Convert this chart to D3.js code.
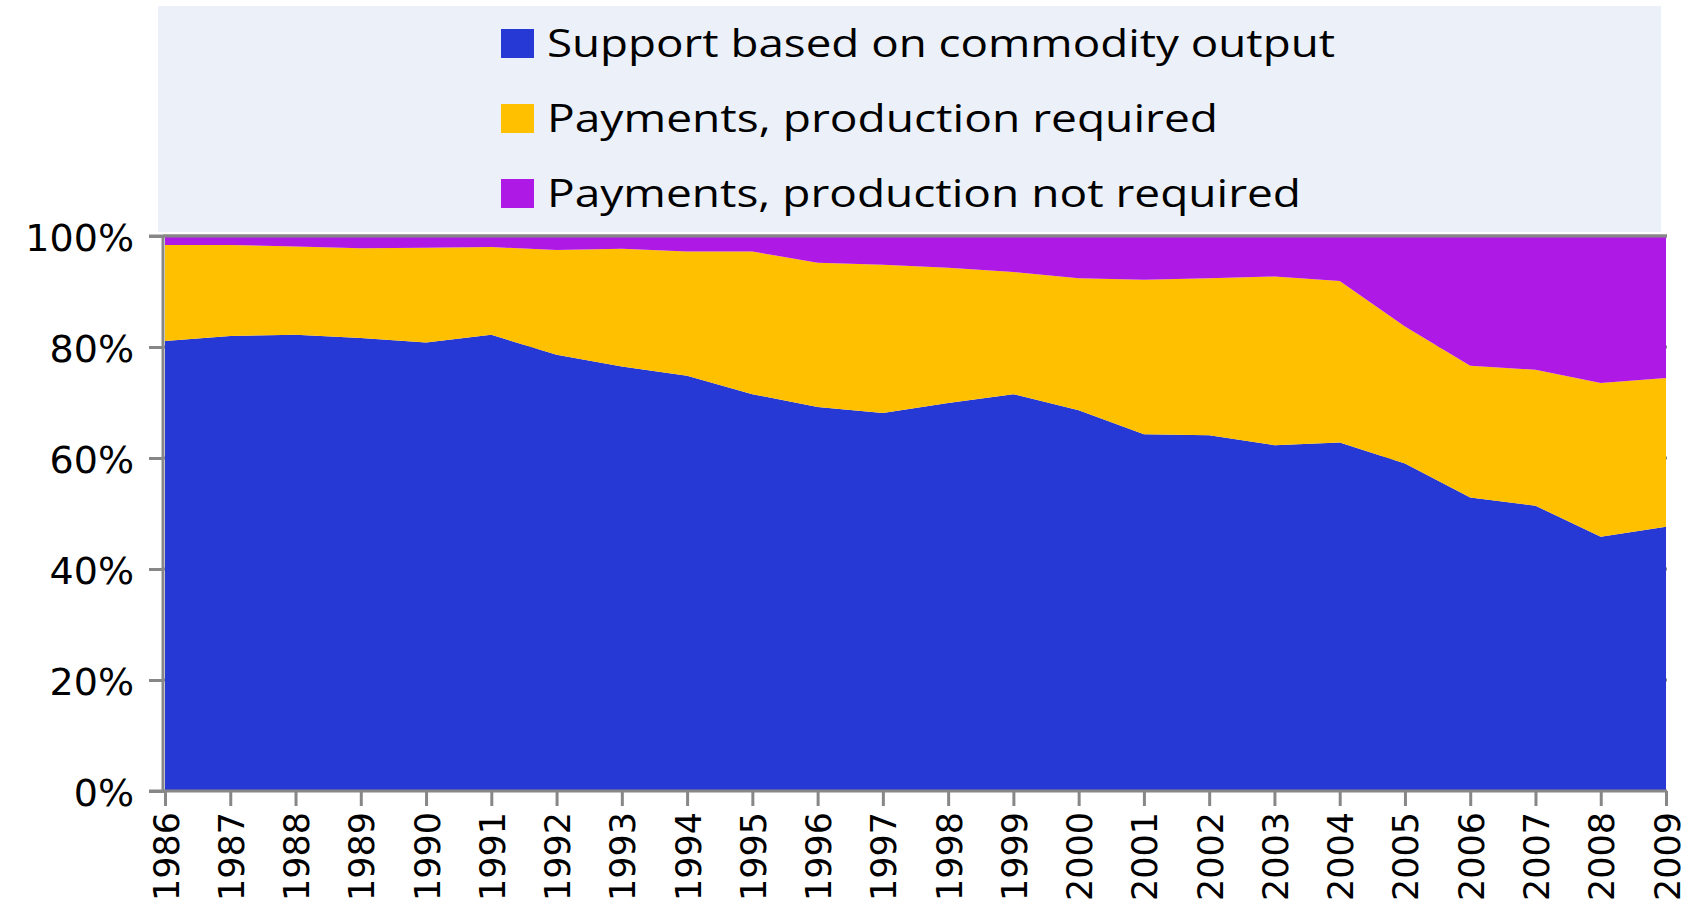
<!DOCTYPE html>
<html>
<head>
<meta charset="utf-8">
<script src="https://cdn.jsdelivr.net/npm/d3@7"></script>
<style>
  html, body { margin: 0; padding: 0; background: #ffffff; }
  svg { display: block; }
</style>
</head>
<body>
<svg id="chart" width="1691" height="905"></svg>
<script>
// ---- data (shares in %) ----
const years = [1986,1987,1988,1989,1990,1991,1992,1993,1994,1995,1996,1997,
               1998,1999,2000,2001,2002,2003,2004,2005,2006,2007,2008,2009];
const supportCommodityOutput = [81.1,82.0,82.2,81.6,80.8,82.2,78.6,76.5,74.8,71.5,69.2,68.1,
                                69.9,71.5,68.6,64.3,64.1,62.3,62.8,59.0,52.9,51.4,45.8,47.6];
const paymentsProductionRequired = [17.3,16.4,15.9,16.2,17.1,15.8,18.9,21.2,22.4,25.7,26.0,26.7,
                                    24.4,22.0,23.8,27.8,28.3,30.4,29.1,24.7,23.7,24.5,27.7,26.8];
const paymentsProductionNotRequired = [1.6,1.6,1.9,2.2,2.1,2.0,2.5,2.3,2.8,2.8,4.8,5.2,
                                       5.7,6.5,7.6,7.9,7.6,7.3,8.1,16.3,23.4,24.1,26.5,25.6];
const seriesNames = ["Support based on commodity output",
                     "Payments, production required",
                     "Payments, production not required"];
const seriesColors = ["#2639D5", "#FFC000", "#AF19E6"];
const yTicks = [0, 20, 40, 60, 80, 100];
const yTickLabels = ["0%", "20%", "40%", "60%", "80%", "100%"];

// ---- build table ----
const keys = ["a", "b", "c"];
const table = years.map((y, i) => ({
  year: y,
  a: supportCommodityOutput[i],
  b: paymentsProductionRequired[i],
  c: paymentsProductionNotRequired[i]
}));

const svg = d3.select("#chart");
const axisColor = "#878787";
const tickFont = "'DejaVu Sans', Verdana, sans-serif";

const x = d3.scaleLinear().domain([1986, 2009]).range([165, 1666]);
const y = d3.scaleLinear().domain([0, 100]).range([791, 236]);

// legend box
svg.append("rect")
  .attr("x", 158).attr("y", 6).attr("width", 1503).attr("height", 226)
  .attr("fill", "#ECF0F8");

// gridlines (mostly hidden behind areas)
svg.append("g").selectAll("line").data(yTicks.filter(d => d > 0)).join("line")
  .attr("x1", 163).attr("x2", 1667)
  .attr("y1", d => y(d)).attr("y2", d => y(d))
  .attr("stroke", axisColor).attr("stroke-width", 3);

// stacked areas
const stack = d3.stack().keys(keys);
const layers = stack(table);
const area = d3.area()
  .x(d => x(d.data.year))
  .y0(d => y(d[0]))
  .y1(d => y(Math.min(d[1], 100)));
svg.append("g").selectAll("path").data(layers).join("path")
  .attr("d", area)
  .attr("fill", (d, i) => seriesColors[i]);

// left axis
const yAxis = d3.axisLeft(y).tickValues(yTicks)
  .tickFormat((d, i) => yTickLabels[i]).tickSize(14).tickPadding(15);
const gy = svg.append("g").attr("transform", "translate(163,0)").call(yAxis);
gy.select(".domain").attr("stroke", axisColor).attr("stroke-width", 3)
  .attr("d", "M0," + (y(100)) + "V" + (y(0) + 2));
gy.selectAll(".tick line").attr("stroke", axisColor).attr("stroke-width", 3);
gy.selectAll(".tick text")
  .attr("font-family", tickFont).attr("font-size", 38)
  .attr("fill", "#000").attr("dy", "0.38em");

// bottom axis
const xAxis = d3.axisBottom(x).tickValues(years).tickFormat(d3.format("d"))
  .tickSize(15).tickSizeOuter(0);
const gx = svg.append("g").attr("transform", "translate(0,791)").call(xAxis);
gx.select(".domain").attr("stroke", axisColor).attr("stroke-width", 3)
  .attr("d", "M149,0H1667");
gx.selectAll(".tick line").attr("stroke", axisColor).attr("stroke-width", 3);
gx.selectAll(".tick text")
  .attr("font-family", tickFont).attr("font-size", 36).attr("fill", "#000")
  .attr("text-anchor", "end")
  .attr("dy", null).attr("y", 0)
  .attr("textLength", 89).attr("lengthAdjust", "spacingAndGlyphs")
  .attr("transform", "translate(13,21) rotate(-90)");

// top border line (100% gridline across)
svg.append("line")
  .attr("x1", 149).attr("x2", 1667).attr("y1", y(100)).attr("y2", y(100))
  .attr("stroke", axisColor).attr("stroke-width", 3);

// legend
const legendTextLengths = [788, 671, 754];
const legendBaselines = [57, 132, 207];
const lg = svg.append("g").selectAll("g").data(seriesNames).join("g");
lg.append("rect")
  .attr("x", 501).attr("y", (d, i) => legendBaselines[i] - 28)
  .attr("width", 33).attr("height", 29)
  .attr("fill", (d, i) => seriesColors[i]);
lg.append("text")
  .attr("x", 547).attr("y", (d, i) => legendBaselines[i])
  .attr("font-family", "'Open Sans', 'Noto Sans', sans-serif")
  .attr("font-size", 39)
  .attr("fill", "#000")
  .attr("textLength", (d, i) => legendTextLengths[i])
  .attr("lengthAdjust", "spacingAndGlyphs")
  .text(d => d);
</script>
</body>
</html>
